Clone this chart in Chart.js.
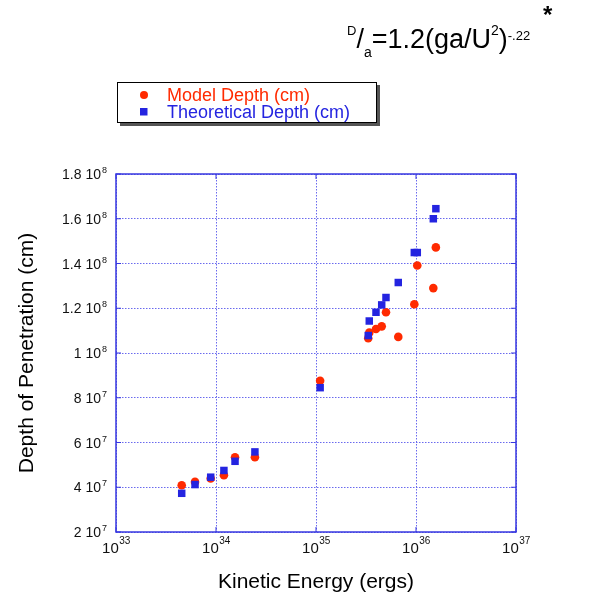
<!DOCTYPE html>
<html>
<head>
<meta charset="utf-8">
<script src="https://cdn.jsdelivr.net/npm/chart.js@4.4.0/dist/chart.umd.min.js"></script>
<style>
html,body{margin:0;padding:0;background:#fff;}
#wrap{position:absolute;left:0;top:0;width:589px;height:596px;}
</style>
</head>
<body>
<div id="wrap"><canvas id="c"></canvas></div>
<script>
// Kinetic energy (ergs) of each run
const energy = [4.54e33, 6.17e33, 8.85e33, 1.2e34, 1.55e34, 2.45e34, 1.1e35,
  3.33e35, 3.41e35, 3.98e35, 4.54e35, 5.01e35, 6.65e35, 9.62e35, 1.03e36, 1.49e36, 1.58e36];
// Model depth (cm)
const modelDepth = [4.09e7, 4.24e7, 4.39e7, 4.54e7, 5.34e7, 5.34e7, 8.76e7,
  1.066e8, 1.091e8, 1.107e8, 1.119e8, 1.182e8, 1.072e8, 1.218e8, 1.391e8, 1.290e8, 1.472e8];
// Theoretical depth (cm)
const theoDepth = [3.73e7, 4.12e7, 4.45e7, 4.75e7, 5.16e7, 5.58e7, 8.45e7,
  1.078e8, 1.143e8, 1.182e8, 1.215e8, 1.248e8, 1.315e8, 1.449e8, 1.449e8, 1.600e8, 1.645e8];
const xTicks = [1e33, 1e34, 1e35, 1e36, 1e37];
const xTickLabels = [["10","33"],["10","34"],["10","35"],["10","36"],["10","37"]];
const yTicks = [2e7, 4e7, 6e7, 8e7, 1e8, 1.2e8, 1.4e8, 1.6e8, 1.8e8];
const yTickLabels = [["2 10","7"],["4 10","7"],["6 10","7"],["8 10","7"],["1 10","8"],
  ["1.2 10","8"],["1.4 10","8"],["1.6 10","8"],["1.8 10","8"]];
const seriesNames = ["Model Depth (cm)", "Theoretical Depth (cm)"];
const xTitle = "Kinetic Energy (ergs)";
const yTitle = "Depth of Penetration (cm)";

const RED = '#ff2a00', BLUE = '#2424e0';
const FONT = '"Liberation Sans", Arial, Helvetica, sans-serif';

const decor = {
  id: 'decor',
  afterDraw(chart) {
    const ctx = chart.ctx, a = chart.chartArea;
    const xs = chart.scales.x, ys = chart.scales.y;
    ctx.save();
    // frame
    ctx.strokeStyle = '#3838e0'; ctx.lineWidth = 1.5; ctx.setLineDash([]);
    ctx.strokeRect(a.left, a.top, a.right - a.left, a.bottom - a.top);
    // inward ticks
    ctx.lineWidth = 1;
    ctx.beginPath();
    xTicks.forEach(v => { const x = xs.getPixelForValue(v);
      ctx.moveTo(x, a.bottom); ctx.lineTo(x, a.bottom - 5);
      ctx.moveTo(x, a.top); ctx.lineTo(x, a.top + 5); });
    yTicks.forEach(v => { const y = ys.getPixelForValue(v);
      ctx.moveTo(a.left, y); ctx.lineTo(a.left + 5, y);
      ctx.moveTo(a.right, y); ctx.lineTo(a.right - 5, y); });
    ctx.stroke();
    // x tick labels
    ctx.fillStyle = '#111'; ctx.textBaseline = 'alphabetic'; ctx.textAlign = 'left';
    xTicks.forEach((v, i) => {
      const x = xs.getPixelForValue(v);
      ctx.font = '15px ' + FONT;
      const w1 = ctx.measureText(xTickLabels[i][0]).width;
      ctx.font = '10px ' + FONT;
      const w2 = ctx.measureText(xTickLabels[i][1]).width;
      const x0 = x - (w1 + w2) / 2;
      ctx.font = '15px ' + FONT;
      ctx.fillText(xTickLabels[i][0], x0, a.bottom + 21);
      ctx.font = '10px ' + FONT;
      ctx.fillText(xTickLabels[i][1], x0 + w1 + 0.5, a.bottom + 12);
    });
    // y tick labels
    yTicks.forEach((v, i) => {
      const y = ys.getPixelForValue(v);
      ctx.font = '9px ' + FONT;
      const w2 = ctx.measureText(yTickLabels[i][1]).width;
      const xr = a.left - 9;
      ctx.fillText(yTickLabels[i][1], xr - w2, y - 1);
      ctx.font = '14px ' + FONT;
      const w1 = ctx.measureText(yTickLabels[i][0]).width;
      ctx.fillText(yTickLabels[i][0], xr - w2 - 1 - w1, y + 5);
    });
    // axis titles
    ctx.font = '21px ' + FONT; ctx.fillStyle = '#000'; ctx.textAlign = 'center';
    ctx.fillText(xTitle, (a.left + a.right) / 2, 588);
    ctx.save();
    ctx.translate(33, (a.top + a.bottom) / 2);
    ctx.rotate(-Math.PI / 2);
    ctx.fillText(yTitle, 0, 0);
    ctx.restore();
    // legend
    ctx.textAlign = 'left';
    ctx.fillStyle = '#555';
    ctx.fillRect(120, 85, 260, 41);
    ctx.fillStyle = '#fff';
    ctx.fillRect(117, 82, 260, 41);
    ctx.strokeStyle = '#000'; ctx.lineWidth = 1;
    ctx.strokeRect(117.5, 82.5, 259, 40);
    ctx.fillStyle = RED;
    ctx.beginPath(); ctx.arc(144, 95, 4, 0, Math.PI * 2); ctx.fill();
    ctx.fillStyle = BLUE;
    ctx.fillRect(140, 108, 7.5, 7.5);
    ctx.font = '18px ' + FONT;
    ctx.fillStyle = RED; ctx.fillText(seriesNames[0], 167, 101);
    ctx.fillStyle = BLUE; ctx.fillText(seriesNames[1], 167, 118);
    // equation title
    ctx.fillStyle = '#000';
    let x = 347;
    const seg = (t, size, base, weight) => {
      ctx.font = (weight || '') + ' ' + size + 'px ' + FONT;
      ctx.fillText(t, x, base);
      x += ctx.measureText(t).width;
    };
    seg('D', 13, 35);
    seg('/', 27, 48);
    seg('a', 14, 57);
    seg('=1.2(ga/U', 27, 48);
    seg('2', 14, 35);
    seg(')', 27, 48);
    seg('-.22', 13, 40);
    ctx.font = 'bold 24px ' + FONT;
    ctx.fillText('*', 543, 23);
    ctx.restore();
  }
};

new Chart(document.getElementById('c'), {
  type: 'scatter',
  data: {
    datasets: [
      { label: seriesNames[1], data: energy.map((e, i) => ({x: e, y: theoDepth[i]})),
        pointStyle: 'rect', pointRadius: 5.3, backgroundColor: BLUE, borderColor: BLUE, borderWidth: 0 },
      { label: seriesNames[0], data: energy.map((e, i) => ({x: e, y: modelDepth[i]})),
        pointStyle: 'circle', pointRadius: 4.3, backgroundColor: RED, borderColor: RED, borderWidth: 0 }
    ]
  },
  options: {
    responsive: true, maintainAspectRatio: false, animation: false,
    layout: { padding: { top: 174, right: 73, left: 0, bottom: 0 } },
    plugins: { legend: { display: false }, tooltip: { enabled: false } },
    scales: {
      x: {
        type: 'logarithmic', min: 1e33, max: 1e37,
        afterBuildTicks: s => { s.ticks = xTicks.map(v => ({value: v})); },
        afterFit: s => { s.height = 64; },
        ticks: { display: false },
        grid: { color: '#6a6aee', lineWidth: 1, drawTicks: false },
        border: { display: false, dash: [1.5, 1.5] }
      },
      y: {
        type: 'linear', min: 2e7, max: 1.8e8,
        afterBuildTicks: s => { s.ticks = yTicks.map(v => ({value: v})); },
        afterFit: s => { s.width = 116; },
        ticks: { display: false },
        grid: { color: '#6a6aee', lineWidth: 1, drawTicks: false },
        border: { display: false, dash: [1.5, 1.5] }
      }
    }
  },
  plugins: [decor]
});
</script>
</body>
</html>
